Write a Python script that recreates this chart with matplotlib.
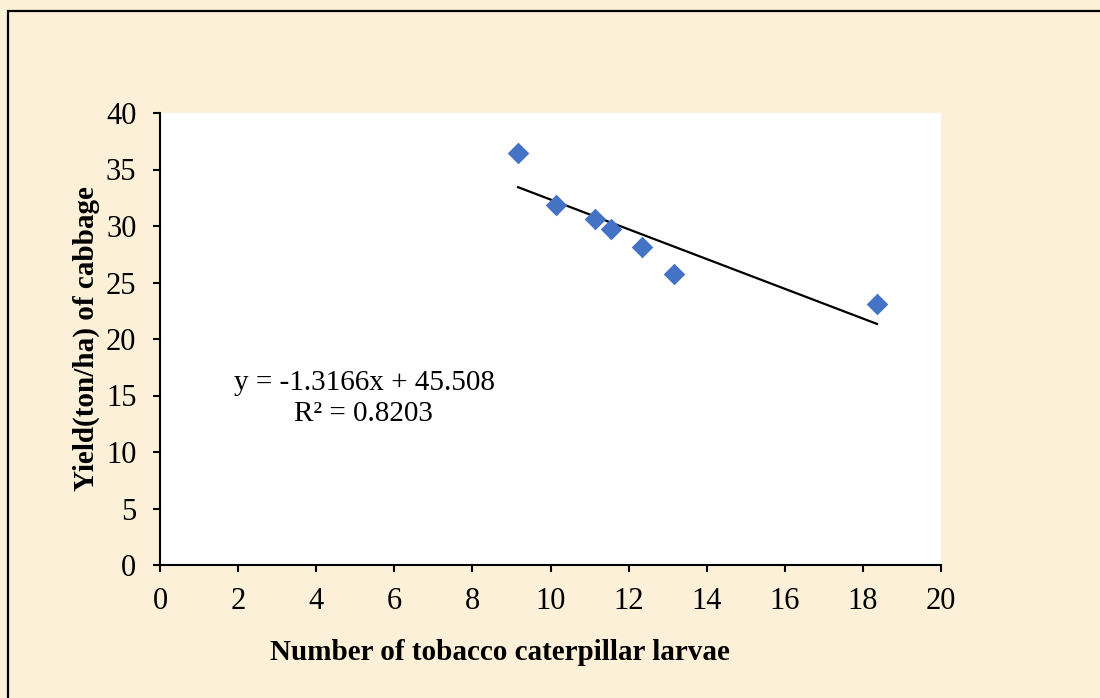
import matplotlib
matplotlib.use("Agg")
import matplotlib.pyplot as plt
from matplotlib.patches import Rectangle
import numpy as np

# Data
larvae = [9.17, 10.13, 11.15, 11.55, 12.35, 13.15, 18.36]
yield_t = [36.48, 31.86, 30.64, 29.76, 28.12, 25.75, 23.10]
slope = -1.3166
intercept = 45.508
r2 = 0.8203
xticks = [0, 2, 4, 6, 8, 10, 12, 14, 16, 18, 20]
yticks = [0, 5, 10, 15, 20, 25, 30, 35, 40]

plt.rcParams['font.family'] = ['Liberation Serif', 'DejaVu Serif']

bg = '#FCF1D8'
fig = plt.figure(figsize=(11, 6.98), dpi=100, facecolor=bg)
ax = fig.add_axes([160/1100, 133/698, 781/1100, 452/698])
ax.set_facecolor('white')

ax.scatter(larvae, yield_t, marker='D', s=11**2, color='#4472C4', zorder=3, linewidths=0)
xs = np.array([min(larvae), max(larvae)])
ax.plot(xs, slope * xs + intercept, color='black', lw=1.6, zorder=2)

ax.set_xlim(0, 20)
ax.set_ylim(0, 40)
ax.set_xticks(xticks)
ax.set_yticks(yticks)
for s in ['top', 'right']:
    ax.spines[s].set_visible(False)
for s in ['left', 'bottom']:
    ax.spines[s].set_linewidth(1.5)
ax.tick_params(direction='out', length=5, width=1.5, labelsize=22)
ax.tick_params(axis='x', pad=11)
ax.tick_params(axis='y', pad=12)

fig.text(500/1100, 1 - 652/698, 'Number of tobacco caterpillar larvae',
         ha='center', va='center', fontsize=21, fontweight='bold')
fig.text(86/1100, 1 - 339/698, 'Yield(ton/ha) of cabbage', rotation=90,
         ha='center', va='center', fontsize=21, fontweight='bold')

fig.text(364/1100, 1 - 383/698, f'y = {slope}x + {intercept}',
         ha='center', va='center', fontsize=21)
fig.text(363/1100, 1 - 414/698, f'R² = {r2}',
         ha='center', va='center', fontsize=21)

fig.add_artist(Rectangle((8/1100, -0.2), 1.5, 0.2 + 1 - 11/698, transform=fig.transFigure,
                         fill=False, edgecolor='black', lw=1.6, clip_on=False))

fig.savefig('out.png', dpi=100, facecolor=bg)
